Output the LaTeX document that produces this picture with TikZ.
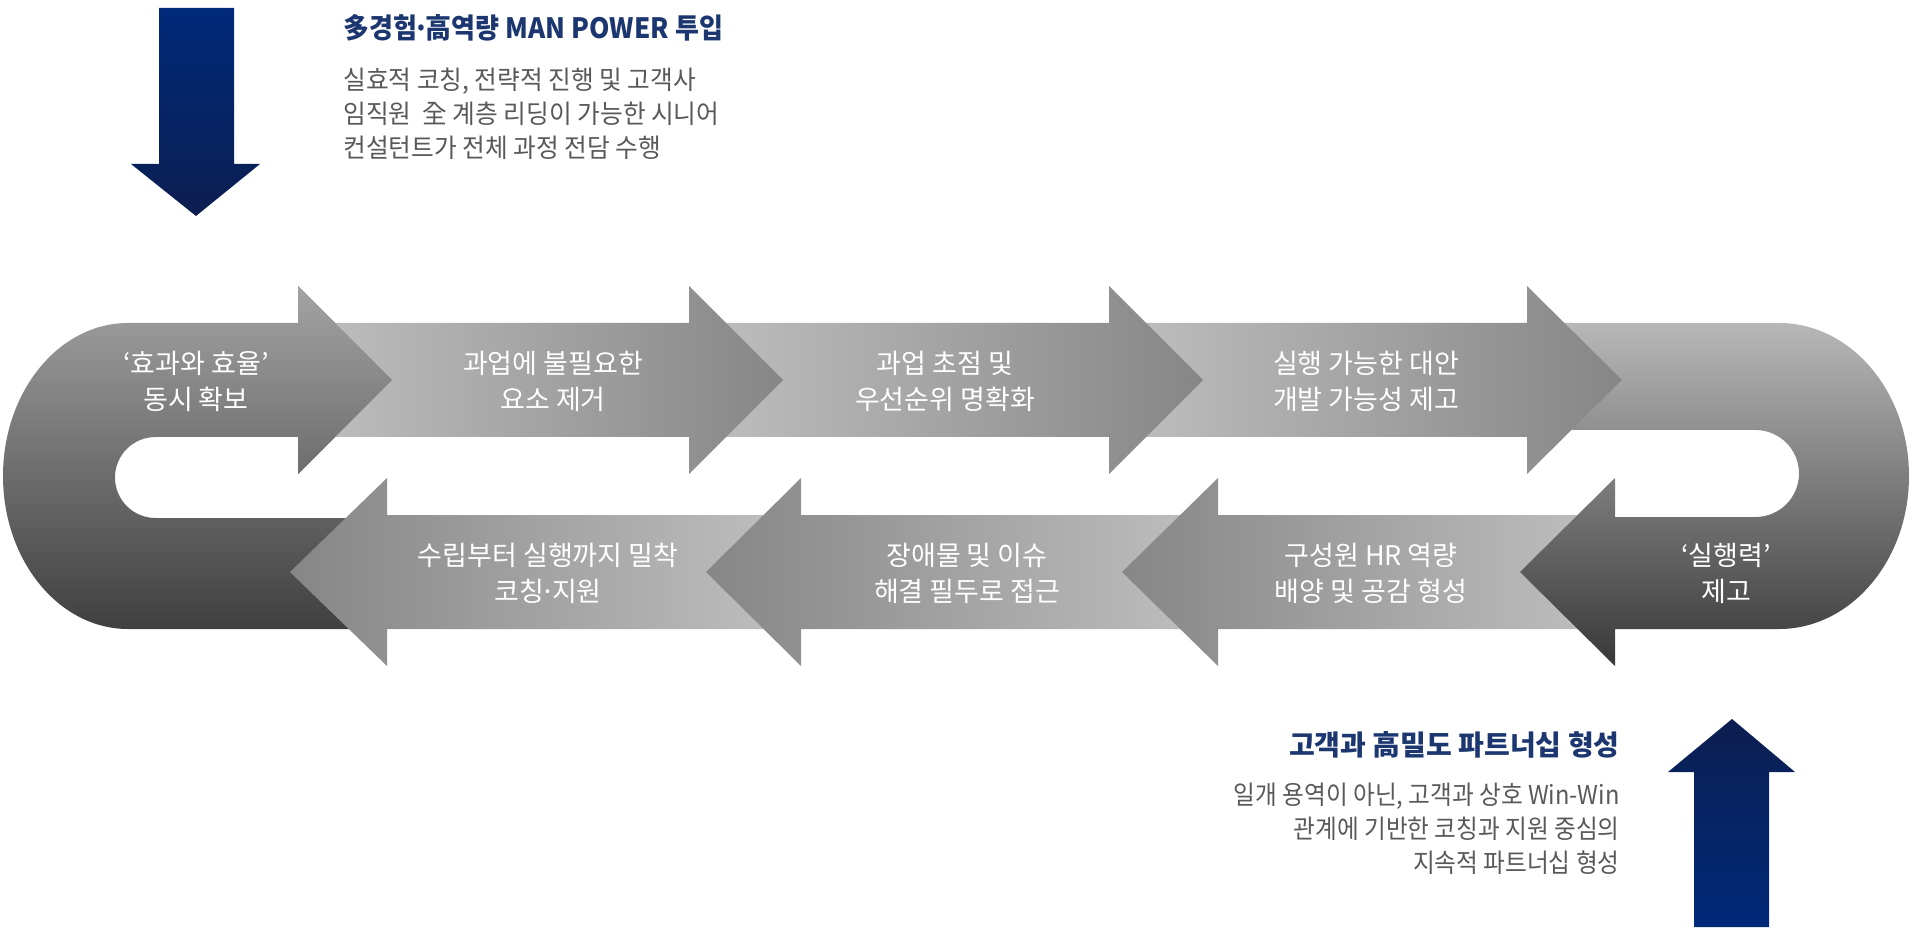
\documentclass[tikz,border=0pt]{standalone}
\usepackage{fontspec}
\setmainfont{Noto Sans CJK KR}
\newfontfamily\titlefont[FakeStretch=0.93]{Noto Sans CJK KR}
\newfontfamily\bodyfont[FakeStretch=0.95]{Noto Sans CJK KR}
\newfontfamily\narrowfont[FakeStretch=0.91]{Noto Sans CJK KR}
\definecolor{navytxt}{RGB}{28,55,112}
\definecolor{bodytxt}{RGB}{89,89,89}
\definecolor{bluelt}{RGB}{0,42,122}
\definecolor{bluedk}{RGB}{12,30,80}
\definecolor{greylt}{RGB}{190,190,190}
\definecolor{greydk}{RGB}{134,134,134}
\newcommand\mdot{\makebox[.3em]{·}}
\newcommand\loopC{(298,323) -- (128,323) arc[start angle=270, end angle=180, x radius=125, y radius=153]
  arc[start angle=180, end angle=90, x radius=125, y radius=153] -- (368,629) -- (368,518) -- (155.5,518)
  arc[start angle=90, end angle=270, radius=40.5] -- (298,437) -- (298,474) -- (392,380) -- (298,286) -- cycle}
\begin{document}
\begin{tikzpicture}[x=.5pt,y=-.5pt,
    fwd/.style={left color=greylt,right color=greydk},
    bwd/.style={left color=greydk,right color=greylt},
    loopshade/.style={top color=black!36,bottom color=black!75},
    label/.style={white,align=center,font=\fontsize{13.5}{18}\selectfont},
    head/.style={navytxt,inner sep=0pt,font=\fontsize{14}{17}\selectfont\bfseries},
    body/.style={bodytxt,inner sep=0pt,font=\fontsize{13}{17}\selectfont}]
  \useasboundingbox (0,0) rectangle (1919,936);
  % left loop, drawn first
  \shade[loopshade] \loopC;
  % lower row, pointing left
  \foreach\s/\b/\t in {782/387/290,1200/801/706,1595/1218/1122}
    \shade[bwd] (\s,515)--(\b,515)--(\b,478)--(\t,572)--(\b,666)--(\b,629)--(\s,629)--cycle;
  % right loop
  \shade[top color=black!28,bottom color=black!78] (1545,323) -- (1779,323)
    arc[start angle=-90, end angle=90, x radius=130, y radius=153] -- (1615,629) -- (1615,666)
    -- (1520,572) -- (1615,478) -- (1615,517) -- (1755.5,517)
    arc[start angle=90, end angle=-90, radius=43.5] -- (1545,430) -- cycle;
  % upper row, pointing right
  \foreach\s/\b/\t in {1127/1527/1622,707/1109/1203,315/689/783}
    \shade[fwd] (\s,323)--(\b,323)--(\b,286)--(\t,380)--(\b,474)--(\b,437)--(\s,437)--cycle;
  % head of the left loop lies on top
  \begin{scope}
    \clip (298,286) -- (392,380) -- (298,474) -- cycle;
    \shade[loopshade] \loopC;
  \end{scope}
  \node[label] (c1) at (196,381) {‘효과와 효율’\\동시 확보};
  \node[label] (t1) at (553,381) {과업에 불필요한\\요소 제거};
  \node[label] (t2) at (945,381) {과업 초점 및\\우선순위 명확화};
  \node[label] (t3) at (1366,381) {실행 가능한 대안\\개발 가능성 제고};
  \node[label] (d1) at (1726,573) {‘실행력’\\제고};
  \node[label] (b1) at (1371,573) {구성원 HR 역량\\배양 및 공감 형성};
  \node[label] (b2) at (967,573) {장애물 및 이슈\\해결 필두로 접근};
  \node[label] (b3) at (548,573) {수립부터 실행까지 밀착\\코칭\mdot 지원};
  % blue arrows
  \shade[top color=bluelt,bottom color=bluedk] (159,8) -- (234,8) -- (234,164) -- (260,164)
    -- (196,216) -- (131,164) -- (159,164) -- cycle;
  \shade[top color=bluedk,bottom color=bluelt] (1694,927) -- (1769,927) -- (1769,772) -- (1795,772)
    -- (1732,719) -- (1668,772) -- (1694,772) -- cycle;
  \node[head,anchor=west] (powerTitle) at (343,28) {\titlefont\bfseries 多경험\mdot 高역량 MAN POWER 투입};
  \node[body,anchor=west,align=left] (powerText) at (343,114)
    {\bodyfont 실효적 코칭, 전략적 진행 및 고객사\\\bodyfont 임직원\ \ 全 계층 리딩이 가능한 시니어\\\bodyfont 컨설턴트가 전체 과정 전담 수행};
  \node[head,anchor=east] (partnerTitle) at (1620,745) {고객과 高밀도 파트너십 형성};
  \node[body,anchor=east,align=right] (partnerText) at (1620,829)
    {\narrowfont 일개 용역이 아닌, 고객과 상호 Win-Win\\\narrowfont 관계에 기반한 코칭과 지원 중심의\\\narrowfont 지속적 파트너십 형성};
\end{tikzpicture}
\end{document}
